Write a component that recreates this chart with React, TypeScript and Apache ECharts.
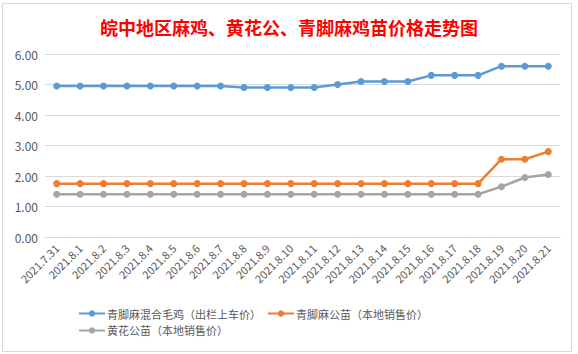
import React, { useEffect, useRef } from "react";
import * as echarts from "echarts";

const categories = [
  "2021.7.31", "2021.8.1", "2021.8.2", "2021.8.3", "2021.8.4", "2021.8.5",
  "2021.8.6", "2021.8.7", "2021.8.8", "2021.8.9", "2021.8.10", "2021.8.11",
  "2021.8.12", "2021.8.13", "2021.8.14", "2021.8.15", "2021.8.16", "2021.8.17",
  "2021.8.18", "2021.8.19", "2021.8.20", "2021.8.21",
];
const seriesNames = [
  "青脚麻混合毛鸡（出栏上车价）",
  "青脚麻公苗（本地销售价）",
  "黄花公苗（本地销售价）",
];
const mixedChicken = [4.95, 4.95, 4.95, 4.95, 4.95, 4.95, 4.95, 4.95, 4.9, 4.9, 4.9, 4.9, 5.0, 5.1, 5.1, 5.1, 5.3, 5.3, 5.3, 5.6, 5.6, 5.6];
const qingjiaoChick = [1.75, 1.75, 1.75, 1.75, 1.75, 1.75, 1.75, 1.75, 1.75, 1.75, 1.75, 1.75, 1.75, 1.75, 1.75, 1.75, 1.75, 1.75, 1.75, 2.55, 2.55, 2.8];
const huanghuaChick = [1.4, 1.4, 1.4, 1.4, 1.4, 1.4, 1.4, 1.4, 1.4, 1.4, 1.4, 1.4, 1.4, 1.4, 1.4, 1.4, 1.4, 1.4, 1.4, 1.65, 1.95, 2.05];
const colors = ["#5B9BD5", "#ED7D31", "#A5A5A5"];

export default function App() {
  const ref = useRef<HTMLDivElement>(null);
  useEffect(() => {
    if (!ref.current) return;
    const chart = echarts.init(ref.current, undefined, { renderer: "svg" });
    const datas = [mixedChicken, qingjiaoChick, huanghuaChick];
    chart.setOption({
      animation: false,
      backgroundColor: "#ffffff",
      color: colors,
      title: {
        text: "皖中地区麻鸡、黄花公、青脚麻鸡苗价格走势图",
        left: "center",
        top: 13,
        textStyle: {
          color: "#FF0000",
          fontSize: 18,
          fontWeight: "bold",
          fontFamily: "Noto Sans CJK SC",
        },
      },
      graphic: [
        {
          type: "rect",
          shape: { x: 2.5, y: 3.5, width: 569, height: 348 },
          style: { fill: "none", stroke: "#d9d9d9", lineWidth: 1 },
          silent: true,
        },
      ],
      grid: { left: 45, right: 18, top: 54, bottom: 117, containLabel: false },
      xAxis: {
        type: "category",
        data: categories,
        boundaryGap: true,
        axisLine: { show: true, lineStyle: { color: "#d9d9d9" } },
        axisTick: { show: false },
        axisLabel: {
          rotate: 45,
          interval: 0,
          margin: 9,
          fontSize: 11,
          color: "#595959",
          fontFamily: "Noto Sans CJK SC",
        },
      },
      yAxis: {
        type: "value",
        min: 0,
        max: 6,
        interval: 1,
        axisLine: { show: false },
        axisTick: { show: false },
        splitLine: { lineStyle: { color: "#d9d9d9", width: 1 } },
        axisLabel: {
          formatter: (v: number) => v.toFixed(2),
          fontSize: 12,
          color: "#595959",
          margin: 7,
          fontFamily: "Noto Sans CJK SC",
        },
      },
      legend: {
        left: 78,
        top: 303,
        width: 420,
        itemWidth: 26,
        itemHeight: 8,
        itemGap: 6,
        padding: [5, 0, 5, 0],
        textStyle: { fontSize: 11, color: "#595959", fontFamily: "Noto Sans CJK SC", padding: [0, 0, 0, -3] },
        data: seriesNames,
      },
      series: seriesNames.map((name, i) => ({
        name,
        type: "line",
        data: datas[i],
        symbol: "circle",
        symbolSize: 7,
        lineStyle: { width: 2.5, color: colors[i] },
        itemStyle: { color: colors[i] },
      })),
    });
    return () => chart.dispose();
  }, []);
  return (
    <div
      ref={ref}
      style={{ position: "fixed", left: 0, top: 0, width: 578, height: 354 }}
    />
  );
}
